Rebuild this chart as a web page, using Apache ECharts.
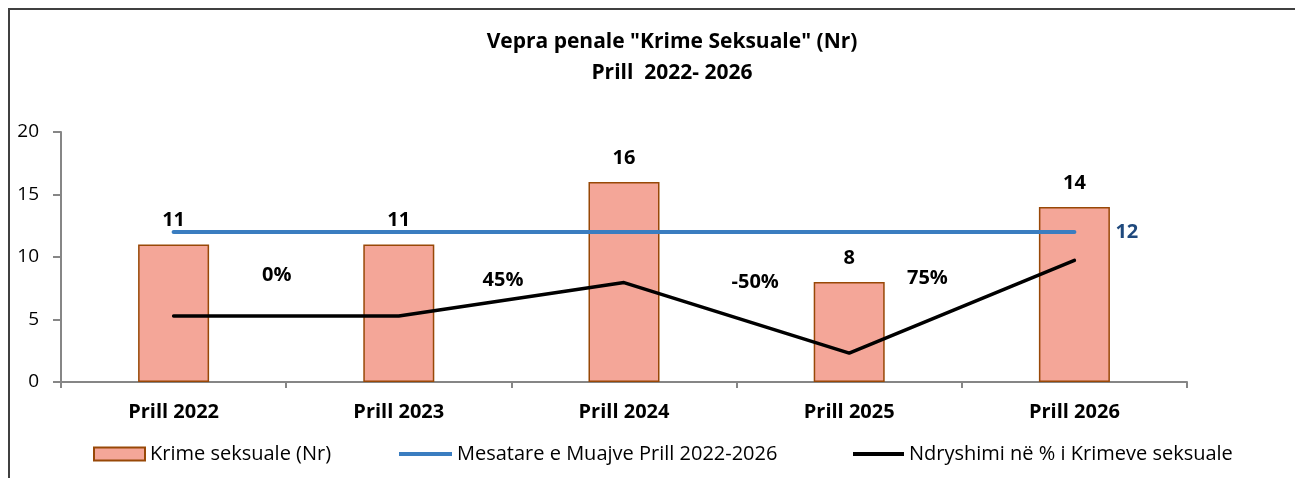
<!DOCTYPE html>
<html>
<head>
<meta charset="utf-8">
<script src="https://cdn.jsdelivr.net/npm/echarts@6/dist/echarts.min.js"></script>
<style>
  html, body { margin: 0; padding: 0; background: #fff; }
  #chart { width: 1295px; height: 478px; }
</style>
</head>
<body>
<div id="chart"></div>
<script>
// data
const categories = ["Prill 2022", "Prill 2023", "Prill 2024", "Prill 2025", "Prill 2026"];
const crimes = [11, 11, 16, 8, 14];
const average = [12, 12, 12, 12, 12];
const pctChange = [0, 0, 0.45, -0.5, 0.75];
const yTicks = [0, 5, 10, 15, 20];

// label placement for the % labels (Excel had them dragged by hand)
const pctLabelOffsets = [null, [-122, -41], [-121, -2], [-94, -71], [-147, 18]];

const FONT = "Open Sans";
const chart = echarts.init(document.getElementById("chart"));

const pctData = pctChange.map((v, i) => ({
  value: v,
  label: pctLabelOffsets[i]
    ? { show: true, offset: pctLabelOffsets[i] }
    : { show: false }
}));

const avgData = average.map((v, i) => ({
  value: v,
  label: { show: i === average.length - 1 }
}));

const legendText = { fontSize: 20, color: "#000", fontFamily: FONT };

chart.setOption({
  animation: false,
  textStyle: { fontFamily: FONT },
  title: {
    text: 'Vepra penale "Krime Seksuale" (Nr)\nPrill  2022- 2026',
    left: 667,
    textAlign: "center",
    top: 22,
    textStyle: { fontSize: 21, fontWeight: "bold", color: "#000", lineHeight: 31, fontFamily: FONT }
  },
  graphic: [
    { type: "line", shape: { x1: 8, y1: 9, x2: 1295, y2: 9 }, style: { stroke: "#404040", lineWidth: 2 } },
    { type: "line", shape: { x1: 9, y1: 8, x2: 9, y2: 478 }, style: { stroke: "#404040", lineWidth: 2 } }
  ],
  grid: { left: 61, right: 108, top: 132, bottom: 96 },
  legend: [
    {
      data: [{ name: "Krime seksuale (Nr)", icon: "rect" }],
      left: 93, top: 444, padding: 0, itemWidth: 51, itemHeight: 13,
      textStyle: legendText
    },
    {
      data: [{ name: "Mesatare e Muajve Prill 2022-2026", icon: "rect" }],
      left: 399, top: 444, padding: 0, itemWidth: 53, itemHeight: 4,
      textStyle: legendText
    },
    {
      data: [{ name: "Ndryshimi në % i Krimeve seksuale", icon: "rect" }],
      left: 853, top: 444, padding: 0, itemWidth: 51, itemHeight: 4,
      textStyle: legendText
    }
  ],
  xAxis: {
    type: "category",
    data: categories,
    axisLine: { lineStyle: { color: "#868686", width: 2 } },
    axisTick: { show: true, length: 6, lineStyle: { color: "#868686", width: 2 } },
    axisLabel: { margin: 20, fontSize: 20, fontWeight: "bold", color: "#000", fontFamily: FONT }
  },
  yAxis: [
    {
      type: "value",
      min: yTicks[0],
      max: yTicks[yTicks.length - 1],
      interval: yTicks[1] - yTicks[0],
      splitLine: { show: false },
      axisLine: { show: true, lineStyle: { color: "#868686", width: 2 } },
      axisTick: { show: true, length: 8, lineStyle: { color: "#868686", width: 2 } },
      axisLabel: { margin: 22, fontSize: 19, color: "#000", fontFamily: FONT }
    },
    {
      type: "value",
      min: -0.89,
      max: 2.48,
      show: false,
      splitLine: { show: false }
    }
  ],
  series: [
    {
      name: "Krime seksuale (Nr)",
      type: "bar",
      data: crimes,
      barWidth: 71,
      itemStyle: { color: "#F4A698", borderColor: "#984807", borderWidth: 1.5 },
      label: {
        show: true, position: "top", distance: 14,
        fontSize: 20, fontWeight: "bold", color: "#000", fontFamily: FONT
      },
      z: 1
    },
    {
      name: "Mesatare e Muajve Prill 2022-2026",
      type: "line",
      data: avgData,
      symbol: "circle",
      symbolSize: 0,
      lineStyle: { color: "#3A7DC0", width: 4, cap: "round" },
      itemStyle: { color: "#3A7DC0" },
      label: {
        position: "right", distance: 41,
        fontSize: 20, fontWeight: "bold", color: "#1F497D", fontFamily: FONT
      },
      z: 3
    },
    {
      name: "Ndryshimi në % i Krimeve seksuale",
      type: "line",
      yAxisIndex: 1,
      data: pctData,
      symbol: "circle",
      symbolSize: 0,
      lineStyle: { color: "#000", width: 3.5, cap: "round" },
      itemStyle: { color: "#000" },
      label: {
        position: "inside",
        formatter: p => Math.round(p.value * 100) + "%",
        fontSize: 20, fontWeight: "bold", color: "#000", fontFamily: FONT
      },
      z: 3
    }
  ]
});
</script>
</body>
</html>
